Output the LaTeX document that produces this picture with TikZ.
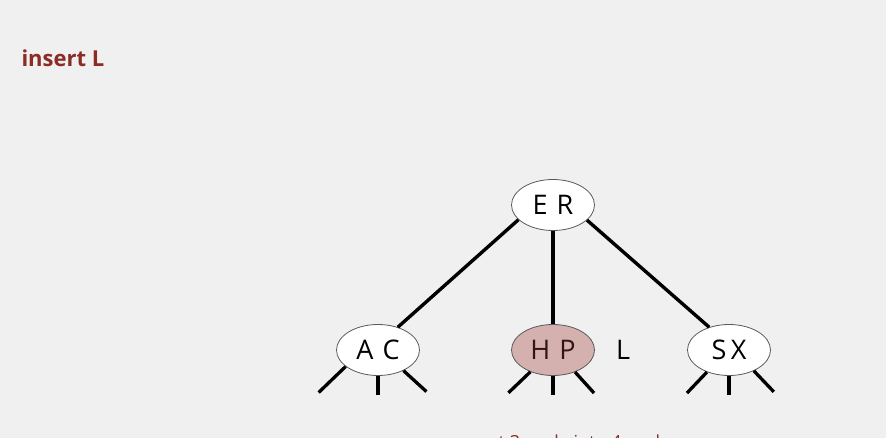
\documentclass[tikz,border=0pt]{standalone}
\usepackage{fontspec}
\setmainfont{Open Sans}
\usepackage{tikz}
\usetikzlibrary{positioning, shapes.geometric}
\definecolor{bgray}{RGB}{240,240,240}
\definecolor{capred}{RGB}{139,44,38}
\definecolor{hpfill}{RGB}{212,176,174}
\definecolor{hptext}{RGB}{50,22,20}
\tikzset{
  key/.style={ellipse, draw=black!65, line width=0.8pt, fill=white,
    minimum width=83pt, minimum height=51pt, inner sep=0pt,
    font=\fontsize{27}{27}\selectfont},
  link/.style={line width=3.4pt, black},
  stub/.style={line width=3.3pt, black}
}

\begin{document}
\begin{tikzpicture}[x=1pt,y=-1pt]

% background and frame
\fill[bgray] (0,0) rectangle (886,438);
\useasboundingbox (0,0) rectangle (886,438);
\clip (0,0) rectangle (886,438);

\node[anchor=base west, text=capred, font=\fontsize{22}{22}\selectfont\bfseries] (title) at (18,67) {insert L};

% tree
\node[key] (er) at (553,205) {E\,\,R};
\node[key] (ac) at (378,350) {A\,\,C};
\node[key, fill=hpfill, text=hptext] (hp) at (553,350) {H\,\,P};
\node[key] (sx) at (729,350) {S\,X};
\node[font=\fontsize{27}{27}\selectfont] (new) at (623,350) {L};

\draw[link] (er.-157) -- (ac.49);
\draw[link] (er) -- (hp);
\draw[link] (er.-24) -- (sx.131);

% links to the level below
\foreach \n/\la/\lx/\ly/\ra/\rx/\ry in {ac/-153/-27/26/-39/23/21, hp/-136/-22/21/-45/19/21, sx/-135/-20/21/-40/20/21} {
  \draw[stub] (\n.\la) -- ++(\lx,\ly);
  \draw[stub] (\n.-90) -- ++(0,19);
  \draw[stub] (\n.\ra) -- ++(\rx,\ry);
}

\node[anchor=base, text=capred, font=\fontsize{18}{18}\selectfont] (note) at (556,448) {convert 3-node into 4-node};

\end{tikzpicture}
\end{document}
